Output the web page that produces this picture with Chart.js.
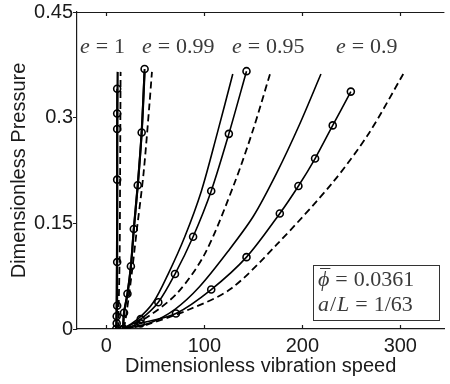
<!DOCTYPE html>
<html>
<head>
<meta charset="utf-8">
<script src="https://cdn.jsdelivr.net/npm/chart.js@4/dist/chart.umd.min.js"></script>
<style>
  html, body { margin: 0; padding: 0; background: #fff; }
  #wrap { width: 450px; height: 384px; }
</style>
</head>
<body>
<div id="wrap"><canvas id="chart" width="450" height="384"></canvas></div>
<script>
// ── DATA ─────────────────────────────────────────────────
const xTicks = [0, 100, 200, 300];
const yTicks = [0, 0.15, 0.3, 0.45];

// e = 1
const e100SolidX = [10, 10.5, 11, 11, 11.5];
const e100SolidY = [0, 0.05, 0.15, 0.25, 0.365];
const e100MarkX  = [10, 10.5, 10.5, 11, 11, 11, 11, 11, 11];
const e100MarkY  = [0, 0.008, 0.018, 0.033, 0.095, 0.212, 0.284, 0.306, 0.341];
const e100DashX  = [12, 13.5, 14, 14.5];
const e100DashY  = [0, 0.1, 0.22, 0.365];

// e = 0.99
const e099SolidX = [17, 18, 21.5, 25, 28, 32, 36, 39];
const e099SolidY = [0, 0.023, 0.05, 0.089, 0.142, 0.204, 0.279, 0.365];
const e099MarkX  = [17, 18, 21.5, 25, 28, 32, 36, 39];
const e099MarkY  = [0, 0.023, 0.05, 0.089, 0.142, 0.204, 0.279, 0.369];
const e099DashX  = [18, 21, 26, 31, 38, 44, 46.5];
const e099DashY  = [0, 0.027, 0.08, 0.14, 0.222, 0.32, 0.365];

// e = 0.95
const e095SolidX = [17, 32, 48, 63, 80, 97, 113, 129];
const e095SolidY = [0, 0.014, 0.038, 0.078, 0.131, 0.196, 0.277, 0.362];
const e095MarkX  = [17, 35, 53, 70, 88.5, 107, 125, 143];
const e095MarkY  = [0, 0.014, 0.038, 0.078, 0.131, 0.196, 0.277, 0.366];
const e095DashX  = [18, 43, 73, 101, 131, 150, 167];
const e095DashY  = [0, 0.018, 0.052, 0.108, 0.208, 0.284, 0.362];

// e = 0.9
const e090SolidX = [18, 45, 70, 95, 124, 150, 174, 197, 219];
const e090SolidY = [0, 0.009, 0.028, 0.06, 0.11, 0.16, 0.222, 0.29, 0.362];
const e090MarkX  = [18, 35, 71, 107, 143, 177, 196, 213, 231, 249.5];
const e090MarkY  = [0, 0.008, 0.022, 0.056, 0.102, 0.164, 0.203, 0.242, 0.289, 0.337];
const e090DashX  = [18, 43, 85, 127, 174, 231, 268, 303];
const e090DashY  = [0, 0.007, 0.028, 0.057, 0.12, 0.208, 0.278, 0.362];

const eLabels = ['1', '0.99', '0.95', '0.9'];
const phiBar = '0.0361';
const aOverL = '1/63';

// ── HELPERS ──────────────────────────────────────────────
function pts(xs, ys) {
  return xs.map((x, i) => ({ x: x, y: ys[i] }));
}

function solid(xs, ys, w) {
  return { data: pts(xs, ys), showLine: true, borderColor: '#000', borderWidth: w,
           pointRadius: 0, tension: 0.3, fill: false };
}

function marked(xs, ys, w) {
  return { data: pts(xs, ys), showLine: true, borderColor: '#000', borderWidth: w,
           pointRadius: 3.5, pointBorderWidth: 1.6, pointBorderColor: '#000',
           pointBackgroundColor: 'rgba(0,0,0,0)', tension: 0.3, fill: false };
}

function dashed(xs, ys) {
  return { data: pts(xs, ys), showLine: true, borderColor: '#000', borderWidth: 1.8,
           borderDash: [7, 4], pointRadius: 0, tension: 0.3, fill: false };
}

// ── ANNOTATIONS, BOX, INNER TICKS ────────────────────────
const extras = {
  id: 'extras',
  afterDraw(chart) {
    const ctx = chart.ctx;
    const a = chart.chartArea;
    const xs = chart.scales.x;
    ctx.save();

    // top border + inward ticks
    ctx.strokeStyle = '#1a1a1a';
    ctx.lineWidth = 1.2;
    ctx.beginPath();
    ctx.moveTo(a.left, a.top + 0.5);
    ctx.lineTo(a.right, a.top + 0.5);
    xTicks.forEach(t => {
      const px = Math.round(xs.getPixelForValue(t)) + 0.5;
      ctx.moveTo(px, a.top); ctx.lineTo(px, a.top + 4);
      ctx.moveTo(px, a.bottom); ctx.lineTo(px, a.bottom - 4);
    });
    ctx.stroke();

    // e = ... labels
    const fs = 22;
    const gap = fs * 0.27;
    const leftPos = [80, 142, 232, 336];
    ctx.fillStyle = '#3a3a3a';
    ctx.textBaseline = 'middle';
    ctx.textAlign = 'left';
    eLabels.forEach((lab, i) => {
      let x = leftPos[i];
      const y = 47;
      ctx.font = 'italic ' + fs + 'px "Liberation Serif", "DejaVu Serif", serif';
      ctx.fillText('e', x, y);
      x += ctx.measureText('e').width + gap;
      ctx.font = fs + 'px "Liberation Serif", "DejaVu Serif", serif';
      ctx.fillText('=', x, y);
      x += ctx.measureText('=').width + gap;
      ctx.fillText(lab, x, y);
    });

    // parameter box
    ctx.fillStyle = '#fff';
    ctx.fillRect(313, 265, 126, 55);
    ctx.strokeStyle = '#333';
    ctx.lineWidth = 1;
    ctx.strokeRect(313.5, 265.5, 126, 55);

    ctx.fillStyle = '#3a3a3a';
    // line 1: phi bar = 0.0361
    let x = 318, y = 280;
    ctx.font = 'italic ' + fs + 'px "Liberation Serif", "DejaVu Serif", serif';
    ctx.fillText('\u03D5', x, y);
    const pw = ctx.measureText('\u03D5').width;
    ctx.strokeStyle = '#3a3a3a';
    ctx.lineWidth = 1;
    ctx.beginPath();
    ctx.moveTo(x + 2, y - 11.5); ctx.lineTo(x + pw + 1, y - 11.5);
    ctx.stroke();
    x += pw + gap;
    ctx.font = fs + 'px "Liberation Serif", "DejaVu Serif", serif';
    ctx.fillText('=', x, y);
    x += ctx.measureText('=').width + gap;
    ctx.fillText(phiBar, x, y);

    // line 2: a/L = 1/63
    x = 318; y = 305;
    ctx.font = 'italic ' + fs + 'px "Liberation Serif", "DejaVu Serif", serif';
    ctx.fillText('a', x, y);
    x += ctx.measureText('a').width + 1;
    ctx.font = fs + 'px "Liberation Serif", "DejaVu Serif", serif';
    ctx.fillText('/', x, y);
    x += ctx.measureText('/').width + 1;
    ctx.font = 'italic ' + fs + 'px "Liberation Serif", "DejaVu Serif", serif';
    ctx.fillText('L', x, y);
    x += ctx.measureText('L').width + gap;
    ctx.font = fs + 'px "Liberation Serif", "DejaVu Serif", serif';
    ctx.fillText('=', x, y);
    x += ctx.measureText('=').width + gap;
    ctx.fillText(aOverL, x, y);

    ctx.restore();
  }
};

// ── CHART ────────────────────────────────────────────────
const tickFont = { family: '"Liberation Sans", Arial, sans-serif', size: 20 };

new Chart(document.getElementById('chart').getContext('2d'), {
  type: 'scatter',
  data: {
    datasets: [
      solid(e100SolidX, e100SolidY, 2.2),
      marked(e100MarkX, e100MarkY, 2),
      dashed(e100DashX, e100DashY),
      solid(e099SolidX, e099SolidY, 2.2),
      marked(e099MarkX, e099MarkY, 2),
      dashed(e099DashX, e099DashY),
      solid(e095SolidX, e095SolidY, 1.6),
      marked(e095MarkX, e095MarkY, 1.6),
      dashed(e095DashX, e095DashY),
      solid(e090SolidX, e090SolidY, 1.6),
      marked(e090MarkX, e090MarkY, 1.6),
      dashed(e090DashX, e090DashY)
    ]
  },
  options: {
    responsive: false,
    animation: false,
    layout: { padding: { top: 7, right: 0, left: 0, bottom: 0 } },
    plugins: { legend: { display: false }, tooltip: { enabled: false } },
    scales: {
      x: {
        type: 'linear', min: -30, max: 345,
        afterBuildTicks: s => { s.ticks = xTicks.map(v => ({ value: v })); },
        afterFit: s => { s.height = 55; },
        grid: { display: true, drawOnChartArea: false, drawTicks: false },
        border: { display: true, color: '#1a1a1a', width: 1.2 },
        ticks: { font: tickFont, color: '#1a1a1a', padding: 5, maxRotation: 0,
                 callback: v => String(v) },
        title: { display: true, text: 'Dimensionless vibration speed', font: tickFont,
                 color: '#1a1a1a', padding: { top: 0, bottom: 6 } }
      },
      y: {
        type: 'linear', min: 0, max: 0.45,
        afterBuildTicks: s => { s.ticks = yTicks.map(v => ({ value: v })); },
        afterFit: s => { s.width = 77; },
        grid: { display: true, drawOnChartArea: false, drawTicks: true, tickLength: 4,
                color: '#1a1a1a' },
        border: { display: true, color: '#1a1a1a', width: 1.2 },
        ticks: { font: tickFont, color: '#1a1a1a', padding: 0,
                 callback: v => String(v) },
        title: { display: true, text: 'Dimensionless Pressure', font: tickFont,
                 color: '#1a1a1a', padding: { top: 7, bottom: 0 } }
      }
    }
  },
  plugins: [extras]
});
</script>
</body>
</html>
